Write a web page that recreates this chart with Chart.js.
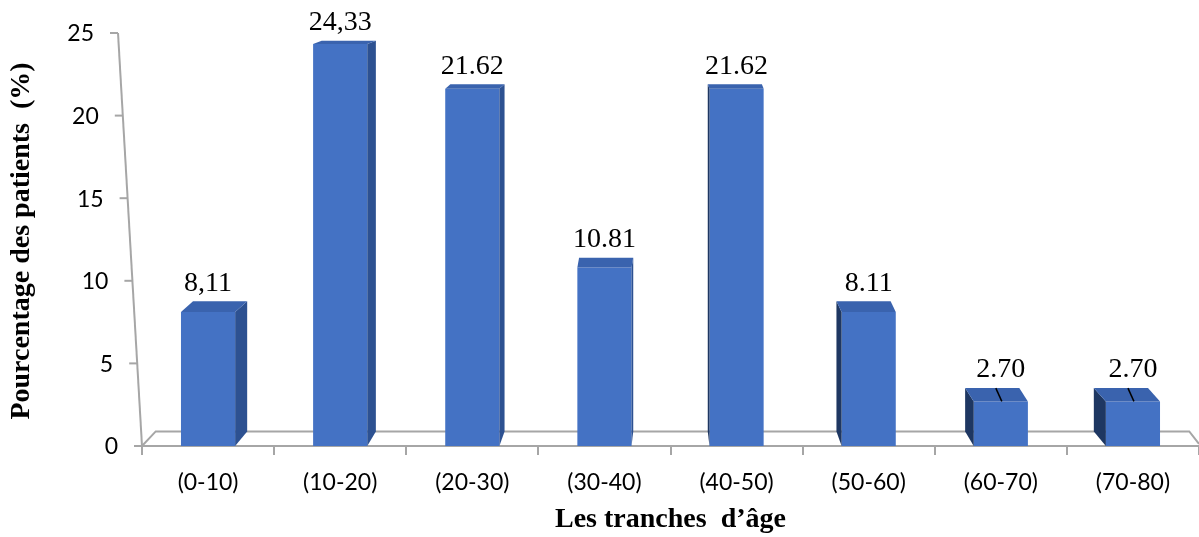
<!DOCTYPE html>
<html lang="fr">
<head>
<meta charset="utf-8">
<title>Tranches d'âge des patients</title>
<script src="https://cdn.jsdelivr.net/npm/chart.js@4.4.1/dist/chart.umd.min.js"></script>
<style>
  html, body { margin: 0; padding: 0; background: #fff; }
  #wrap { width: 1199px; height: 537px; }
</style>
</head>
<body>
<div id="wrap"><canvas id="ageChart"></canvas></div>
<script>
// Répartition des patients par tranche d'âge
const tranches = ['(0-10)', '(10-20)', '(20-30)', '(30-40)', '(40-50)', '(50-60)', '(60-70)', '(70-80)'];
const pourcentages = [8.11, 24.33, 21.62, 10.81, 21.62, 8.11, 2.70, 2.70];
const etiquettes = ['8,11', '24,33', '21.62', '10.81', '21.62', '8.11', '2.70', '2.70'];
const graduations = [0, 5, 10, 15, 20, 25];

const BLEU = '#4472C4';
const BLEU_COTE_DROIT = '#2D5191';
const BLEU_COTE_GAUCHE = '#1E3762';
const BLEU_DESSUS = '#3A63AE';
const GRIS = '#A6A6A6';

// profondeur apparente (pseudo-perspective) selon la hauteur dans le graphique
function recul(y, area) {
    return 3 + (y - area.top) * 0.028;
}
function decalage(x, area) {
    const fuite = (area.left + area.right) / 2;
    return (fuite - x) * 0.026;
}
function axeX(y, area) {
    return area.left - 24 * (area.bottom - y) / (area.bottom - area.top);
}

const relief = {
    id: 'relief',
    beforeDatasetsDraw(chart) {
        const ctx = chart.ctx;
        const area = chart.chartArea;
        const yScale = chart.scales.y;
        const fond = area.bottom - recul(area.bottom, area);

        ctx.save();
        ctx.strokeStyle = GRIS;
        ctx.lineWidth = 2;

        // plancher
        ctx.beginPath();
        ctx.moveTo(area.left, area.bottom);
        ctx.lineTo(area.left + decalage(area.left, area), fond);
        ctx.lineTo(chart.width + decalage(chart.width, area) + 4, fond);
        ctx.lineTo(chart.width, area.bottom - 2);
        ctx.moveTo(area.left, area.bottom);
        ctx.lineTo(chart.width, area.bottom);
        ctx.stroke();

        // axe vertical incliné
        ctx.beginPath();
        ctx.moveTo(area.left, area.bottom);
        ctx.lineTo(axeX(area.top, area), area.top);
        ctx.stroke();

        ctx.fillStyle = '#000';
        ctx.font = '23px Lato';
        ctx.textAlign = 'right';
        ctx.textBaseline = 'middle';
        graduations.forEach(v => {
            const y = yScale.getPixelForValue(v);
            const x = axeX(y, area);
            ctx.beginPath();
            ctx.moveTo(x - 8, y);
            ctx.lineTo(x, y);
            ctx.stroke();
            ctx.fillText(String(v), x - 24, y + 1);
        });

        // titre de l'axe vertical
        ctx.translate(22, 241);
        ctx.rotate(-Math.PI / 2);
        ctx.textAlign = 'center';
        ctx.font = 'bold 28px "Liberation Serif"';
        ctx.fillText('Pourcentage des patients  (%)', 0, 0);
        ctx.restore();
    },
    afterDatasetsDraw(chart) {
        const ctx = chart.ctx;
        const area = chart.chartArea;
        const meta = chart.getDatasetMeta(0);

        ctx.save();
        meta.data.forEach((bar, i) => {
            const w = bar.width;
            const xl = bar.x - w / 2;
            const xr = bar.x + w / 2;
            const yt = bar.y;
            const yb = bar.base;
            const dx = decalage(bar.x, area);
            const dyt = recul(yt, area);
            const dyb = recul(yb, area);

            // face latérale
            const xs = dx >= 0 ? xr : xl;
            ctx.fillStyle = dx >= 0 ? BLEU_COTE_DROIT : BLEU_COTE_GAUCHE;
            ctx.beginPath();
            ctx.moveTo(xs, yt);
            ctx.lineTo(xs + dx, yt - dyt);
            ctx.lineTo(xs + dx, yb - dyb);
            ctx.lineTo(xs, yb);
            ctx.closePath();
            ctx.fill();

            // dessus
            ctx.fillStyle = BLEU_DESSUS;
            ctx.beginPath();
            ctx.moveTo(xl, yt);
            ctx.lineTo(xr, yt);
            ctx.lineTo(xr + dx, yt - dyt);
            ctx.lineTo(xl + dx, yt - dyt);
            ctx.closePath();
            ctx.fill();

            // étiquette de valeur, au-dessus de l'arête arrière
            ctx.fillStyle = '#000';
            ctx.font = '28px "Liberation Serif"';
            ctx.textAlign = 'center';
            ctx.textBaseline = 'middle';
            ctx.fillText(etiquettes[i], bar.x, yt - dyt - 18);

            // trait de rappel pour les petites barres
            if (pourcentages[i] < 5) {
                ctx.strokeStyle = '#000';
                ctx.lineWidth = 1.5;
                ctx.beginPath();
                ctx.moveTo(bar.x - 5, yt - dyt);
                ctx.lineTo(bar.x + 1, yt);
                ctx.stroke();
            }
        });
        ctx.restore();
    }
};

const ctx = document.getElementById('ageChart').getContext('2d');
const ageChart = new Chart(ctx, {
    type: 'bar',
    data: {
        labels: tranches,
        datasets: [{
            label: 'Pourcentage des patients',
            data: pourcentages,
            backgroundColor: BLEU,
            borderWidth: 0,
            barPercentage: 0.41,
            categoryPercentage: 1
        }]
    },
    options: {
        responsive: true,
        maintainAspectRatio: false,
        animation: false,
        layout: {
            padding: { left: 142, right: -6, top: 33, bottom: 0 }
        },
        plugins: {
            legend: { display: false },
            tooltip: { enabled: false }
        },
        scales: {
            x: {
                afterFit(scale) {
                    scale.height = 91;
                },
                grid: {
                    display: true,
                    drawOnChartArea: false,
                    drawTicks: true,
                    tickLength: 9,
                    color: GRIS,
                    lineWidth: 2
                },
                border: { display: false },
                ticks: {
                    color: '#000',
                    padding: 14,
                    font: { family: 'Lato', size: 23, lineHeight: 1.2 }
                },
                title: {
                    display: true,
                    text: 'Les tranches  d’âge',
                    color: '#000',
                    font: { family: 'Liberation Serif', size: 28, weight: 'bold', lineHeight: 1.2 },
                    padding: { top: 5, bottom: 0 }
                }
            },
            y: {
                display: false,
                min: 0,
                max: 25
            }
        }
    },
    plugins: [relief]
});
</script>
</body>
</html>
